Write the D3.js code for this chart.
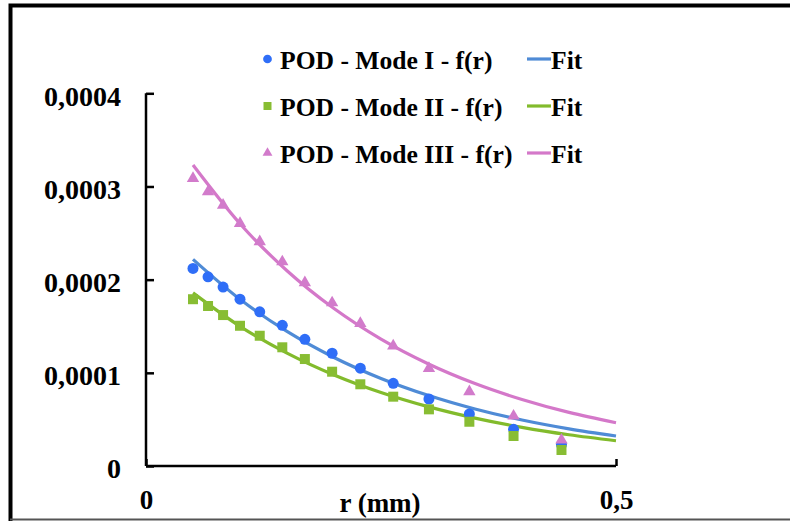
<!DOCTYPE html>
<html>
<head>
<meta charset="utf-8">
<script src="https://cdn.jsdelivr.net/npm/d3@7"></script>
<style>
  html, body { margin: 0; padding: 0; background: #fff; }
  svg { display: block; }
  text { font-family: "Liberation Serif", "Times New Roman", serif; font-weight: bold; fill: #000; }
</style>
</head>
<body>
<svg id="chart" width="790" height="521"></svg>
<script>
// ---- data ----
const rValues = [0.05, 0.066, 0.082, 0.1, 0.121, 0.145, 0.169, 0.198, 0.228, 0.263, 0.301, 0.344, 0.391, 0.442];
const mode1 = [0.000212, 0.000203, 0.000192, 0.000179, 0.0001655, 0.000151, 0.000136, 0.000121, 0.000105, 0.0000887, 0.0000719, 0.0000558, 0.0000394, 0.000023];
const mode2 = [0.000179, 0.0001717, 0.000162, 0.0001505, 0.0001398, 0.0001274, 0.0001148, 0.0001012, 0.0000877, 0.0000744, 0.0000608, 0.0000475, 0.0000322, 0.0000172];
const mode3 = [0.0003087, 0.0002943, 0.00028, 0.0002604, 0.0002407, 0.0002192, 0.0001967, 0.0001752, 0.0001531, 0.0001288, 0.0001048, 0.0000797, 0.0000536, 0.0000279];

const fitR = [0.05, 0.1, 0.15, 0.2, 0.25, 0.3, 0.35, 0.4, 0.45, 0.5];
const fit1 = [0.0002218, 0.0001789, 0.0001444, 0.0001165, 0.000094, 0.0000759, 0.0000612, 0.0000494, 0.0000399, 0.0000322];
const fit2 = [0.0001858, 0.0001499, 0.0001211, 0.0000977, 0.0000789, 0.0000637, 0.0000514, 0.0000415, 0.0000335, 0.0000271];
const fit3 = [0.000323, 0.00026, 0.0002096, 0.000169, 0.0001362, 0.0001098, 0.0000885, 0.0000714, 0.0000575, 0.0000464];

const yTicks = [0, 0.0001, 0.0002, 0.0003, 0.0004];
const yTickLabels = ["0", "0,0001", "0,0002", "0,0003", "0,0004"];
const xTicks = [0, 0.5];
const xTickLabels = ["0", "0,5"];
const seriesNames = ["POD - Mode I - f(r)", "POD - Mode II - f(r)", "POD - Mode III - f(r)"];
const fitName = "Fit";
const xTitle = "r (mm)";

// ---- styling ----
const pointColors = ["#2f6ef7", "#88bd33", "#d27bcb"];
const lineColors = ["#4f8bd6", "#82bb2c", "#d478c9"];
const symbols = [d3.symbolCircle, d3.symbolSquare, d3.symbolTriangle];
const symbolSizes = [95, 100, 66];
const legendSymbolSizes = [60, 64, 42];

const svg = d3.select("#chart");

// outer frame
svg.append("rect").attr("x", 10.5).attr("y", 5.5).attr("width", 820).attr("height", 540)
  .attr("fill", "none").attr("stroke", "#000").attr("stroke-width", 4);
svg.append("line").attr("x1", 10).attr("x2", 790).attr("y1", 519.5).attr("y2", 519.5)
  .attr("stroke", "#555").attr("stroke-width", 2);

const x = d3.scaleLinear().domain([0, 0.5]).range([146, 616]);
const y = d3.scaleLinear().domain([0, 0.0004]).range([466, 93.3]);

// axes
const yAxis = d3.axisLeft(y).tickValues(yTicks).tickSize(-8).tickPadding(25)
  .tickFormat((d, i) => yTickLabels[i]);
const gy = svg.append("g").attr("transform", `translate(${x(0)},0)`).call(yAxis);
gy.select(".domain").attr("stroke", "#000").attr("stroke-width", 2.5).attr("d", `M0,${y(0.0004)}H0V${y(0)}`);
gy.selectAll(".tick line").attr("stroke", "#000").attr("stroke-width", 2.5);
gy.selectAll(".tick text").attr("font-size", 28).attr("dy", "0.42em")
  .style("font-family", "'Liberation Serif', serif").style("font-weight", "bold").attr("fill", "#000");

const xAxis = d3.axisBottom(x).tickValues(xTicks).tickSize(-7).tickPadding(24)
  .tickFormat((d, i) => xTickLabels[i]);
const gx = svg.append("g").attr("transform", `translate(0,${y(0)})`).call(xAxis);
gx.select(".domain").attr("stroke", "#000").attr("stroke-width", 2.5).attr("d", `M${x(0)},0H${x(0.5)}`);
gx.selectAll(".tick line").attr("stroke", "#000").attr("stroke-width", 2.5);
gx.selectAll(".tick text").attr("font-size", 27)
  .style("font-family", "'Liberation Serif', serif").style("font-weight", "bold").attr("fill", "#000");

svg.append("text").attr("x", 380).attr("y", 512).attr("text-anchor", "middle")
  .attr("font-size", 27).text(xTitle);

// fit lines
const line = d3.line().x(d => x(d[0])).y(d => y(d[1])).curve(d3.curveMonotoneX);
[fit1, fit2, fit3].forEach((fit, i) => {
  svg.append("path").datum(fitR.map((r, j) => [r, fit[j]]))
    .attr("d", line).attr("fill", "none").attr("stroke", lineColors[i])
    .attr("stroke-width", 3.2).attr("stroke-linecap", "butt");
});

// points
[mode1, mode2, mode3].forEach((vals, i) => {
  svg.append("g").selectAll("path").data(rValues.map((r, j) => [r, vals[j]])).join("path")
    .attr("transform", d => `translate(${x(d[0])},${y(d[1])})`)
    .attr("d", d3.symbol().type(symbols[i]).size(symbolSizes[i]))
    .attr("fill", pointColors[i]);
});

// legend
const legendY = [59, 106, 153];
seriesNames.forEach((name, i) => {
  svg.append("path").attr("transform", `translate(267.5,${legendY[i]})`)
    .attr("d", d3.symbol().type(symbols[i]).size(legendSymbolSizes[i])).attr("fill", pointColors[i]);
  svg.append("text").attr("x", 280).attr("y", legendY[i] + 10).attr("font-size", 25.6).text(name);
  svg.append("line").attr("x1", 527).attr("x2", 551).attr("y1", legendY[i]).attr("y2", legendY[i])
    .attr("stroke", lineColors[i]).attr("stroke-width", 3.2);
  svg.append("text").attr("x", 551).attr("y", legendY[i] + 10).attr("font-size", 25.6).text(fitName);
});
</script>
</body>
</html>
